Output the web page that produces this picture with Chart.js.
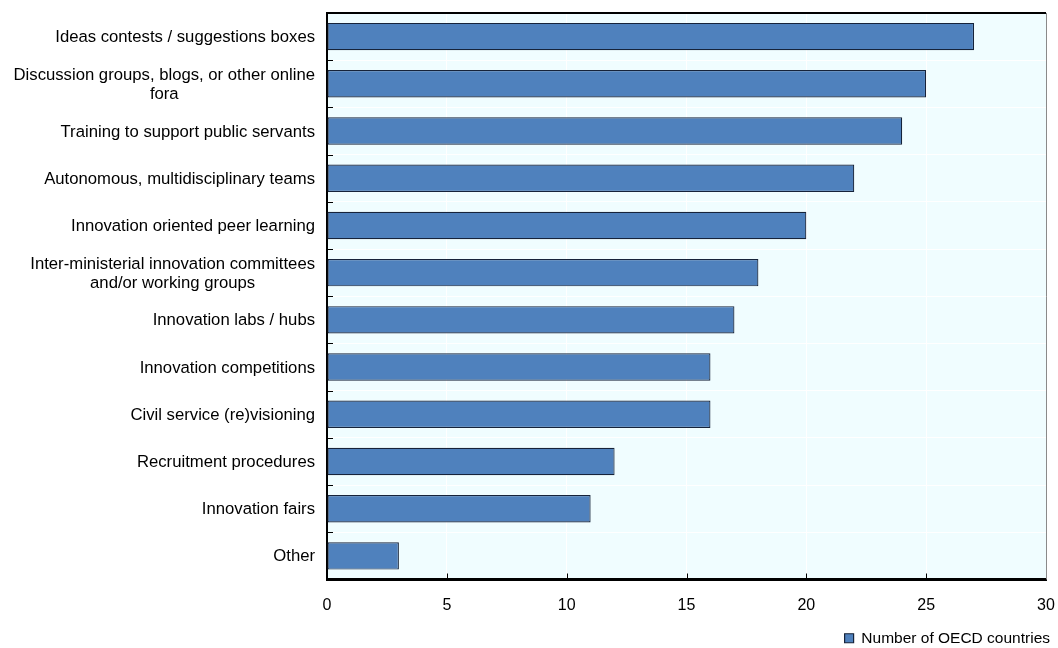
<!DOCTYPE html>
<html>
<head>
<meta charset="utf-8">
<script src="https://cdn.jsdelivr.net/npm/chart.js@4/dist/chart.umd.min.js"></script>
<style>
  html, body { margin: 0; padding: 0; background: #ffffff; }
  #wrap { width: 1058px; height: 648px; }
</style>
</head>
<body>
<div id="wrap"><canvas id="innovationChart" width="1058" height="648"></canvas></div>
<script>
// Mechanisms used to support innovation, number of OECD countries
const categories = [
  'Ideas contests / suggestions boxes',
  ['Discussion groups, blogs, or other online', 'fora'],
  'Training to support public servants',
  'Autonomous, multidisciplinary teams',
  'Innovation oriented peer learning',
  ['Inter-ministerial innovation committees', 'and/or working groups'],
  'Innovation labs / hubs',
  'Innovation competitions',
  'Civil service (re)visioning',
  'Recruitment procedures',
  'Innovation fairs',
  'Other'
];
const countries = [27, 25, 24, 22, 20, 18, 17, 16, 16, 12, 11, 3];
const xTicks = [0, 5, 10, 15, 20, 25, 30];

const FONT = "'Liberation Sans', Arial, sans-serif";

// Pale plot background, frame, inward tick marks and the category labels
const frame = {
  id: 'frame',
  afterLayout(chart) {
    // nudge the legend down and to the right, past the plot edge
    const lg = chart.legend;
    if (lg) {
      lg.top += 8; lg.bottom += 8;
      lg.right += 7; lg.width += 7;
    }
  },
  beforeDraw(chart) {
    const { ctx, chartArea: a } = chart;
    ctx.save();
    ctx.fillStyle = '#f0fdff';
    ctx.fillRect(a.left, a.top, a.right - a.left, a.bottom - a.top);
    ctx.restore();
  },
  afterDraw(chart) {
    const { ctx, chartArea: a, scales } = chart;
    const y = scales.y, x = scales.x;
    ctx.save();
    ctx.strokeStyle = '#000';
    ctx.lineWidth = 1;
    // y ticks at category boundaries
    for (let i = 0; i < categories.length - 1; i++) {
      const p = Math.round((y.getPixelForTick(i) + y.getPixelForTick(i + 1)) / 2) + 0.5;
      ctx.beginPath();
      ctx.moveTo(a.left, p);
      ctx.lineTo(a.left + 6, p);
      ctx.stroke();
    }
    // x ticks rising from the bottom axis
    xTicks.slice(1, -1).forEach(v => {
      const p = Math.round(x.getPixelForValue(v)) + 0.5;
      ctx.beginPath();
      ctx.moveTo(p, a.bottom);
      ctx.lineTo(p, a.bottom - 6);
      ctx.stroke();
    });
    // top and right edges
    ctx.lineWidth = 2;
    ctx.beginPath();
    ctx.moveTo(a.left, a.top);
    ctx.lineTo(a.right, a.top);
    ctx.stroke();
    ctx.strokeStyle = '#8a8a8a';
    ctx.lineWidth = 1;
    ctx.beginPath();
    ctx.moveTo(a.right + 0.5, a.top);
    ctx.lineTo(a.right + 0.5, a.bottom);
    ctx.stroke();

    // category labels, each block centred line by line
    ctx.font = '16.7px ' + FONT;
    ctx.fillStyle = '#000';
    ctx.textAlign = 'center';
    ctx.textBaseline = 'middle';
    const lh = 19;
    categories.forEach((lab, i) => {
      const lines = Array.isArray(lab) ? lab : [lab];
      const w = Math.max(...lines.map(l => ctx.measureText(l).width));
      const cx = a.left - 12 - w / 2;
      const cy = y.getPixelForTick(i) + 1;
      lines.forEach((l, j) => {
        ctx.fillText(l, cx, cy + (j - (lines.length - 1) / 2) * lh);
      });
    });
    ctx.restore();
  }
};

new Chart(document.getElementById('innovationChart').getContext('2d'), {
  type: 'bar',
  data: {
    labels: categories,
    datasets: [{
      label: 'Number of OECD countries',
      data: countries,
      backgroundColor: '#4f81bd',
      borderColor: '#16233a',
      borderWidth: 1.2,
      borderSkipped: false,
      categoryPercentage: 1,
      barPercentage: 0.58
    }]
  },
  options: {
    indexAxis: 'y',
    responsive: false,
    animation: false,
    layout: { padding: { top: 13, right: 12, left: 0, bottom: 0 } },
    scales: {
      x: {
        min: 0,
        max: 30,
        afterBuildTicks(scale) {
          scale.ticks = xTicks.map(v => ({ value: v }));
        },
        afterFit(scale) {
          scale.height = 40;
          scale.paddingLeft = 0;
          scale.paddingRight = 0;
        },
        grid: { color: '#ffffff', lineWidth: 1, drawTicks: false },
        border: { color: '#000', width: 3 },
        ticks: { color: '#000', padding: 16, font: { family: FONT, size: 16 } }
      },
      y: {
        afterFit(scale) { scale.width = 327; },
        grid: { color: '#ffffff', lineWidth: 1, drawTicks: false, offset: true },
        border: { color: '#000', width: 2 },
        ticks: { display: false }
      }
    },
    plugins: {
      legend: {
        position: 'bottom',
        align: 'end',
        labels: {
          color: '#000',
          boxWidth: 9,
          boxHeight: 9,
          padding: 3,
          font: { family: FONT, size: 15.5 }
        }
      },
      tooltip: { enabled: false }
    }
  },
  plugins: [frame]
});
</script>
</body>
</html>
